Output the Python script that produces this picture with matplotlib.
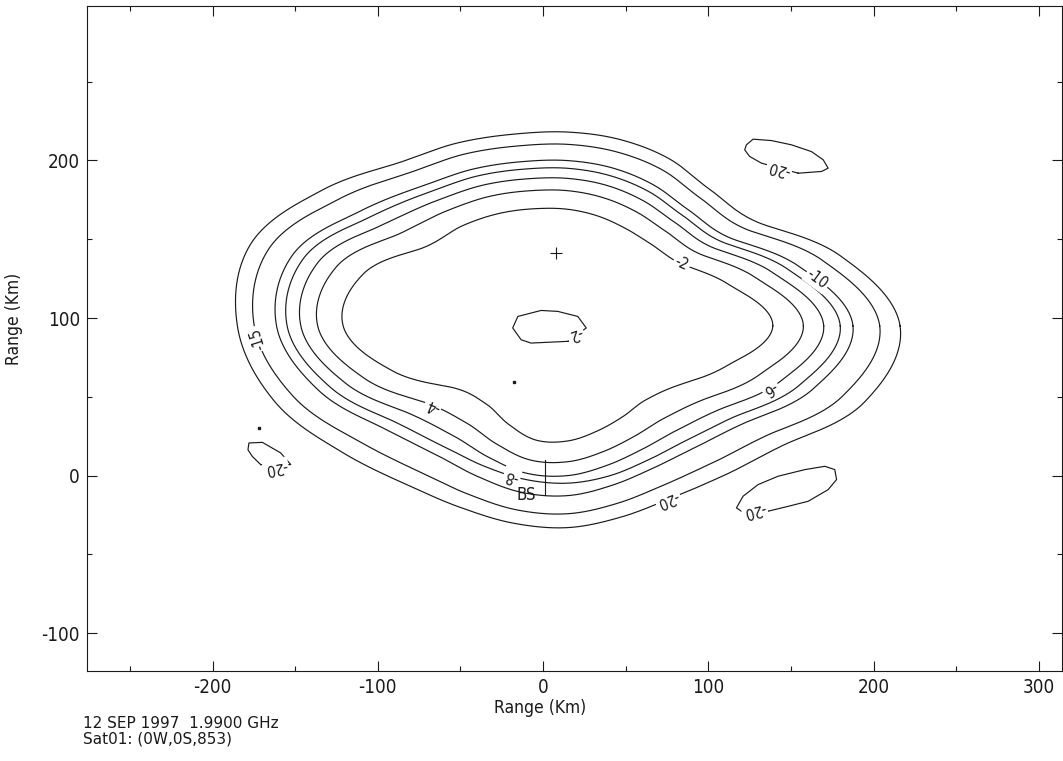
import numpy as np
import matplotlib
matplotlib.use("Agg")
import matplotlib.pyplot as plt
from matplotlib.ticker import MultipleLocator, FuncFormatter

plt.rcParams['font.family'] = ['DejaVu Sans']
plt.rcParams['font.stretch'] = 'condensed'

# ---------------- data ----------------
# main beam contours: radius (km) from the beam centre at each azimuth (deg)
beam_center = (15.0, 95.0)
azimuths = [0, 15, 30, 45, 60, 75, 90, 105, 120, 135, 150, 165,
            180, 195, 210, 225, 240, 255, 270, 285, 300, 315, 330, 345]
levels = [-2, -4, -6, -8, -10, -15, -20]
r_m2 = [124, 101, 79, 72.5, 71, 72, 74, 77, 82.5, 90, 100, 128,
        136, 110, 79, 70, 72, 75, 73, 69, 66.5, 66.5, 76, 99]
r_m4 = [142.5, 117.8, 91.7, 84.4, 83.4, 84.1, 85.8, 88.8, 94.9, 103.4, 117.3, 145,
        151.4, 127.8, 98.2, 87, 86.5, 88.1, 86.2, 82.6, 80.8, 82.7, 94, 119.9]
r_m6 = [154.8, 129, 100.2, 92.3, 91.6, 92.2, 93.6, 96.6, 103.1, 112.4, 128.8, 156.4,
        161.6, 139.6, 111, 98.4, 96.2, 96.8, 95, 91.6, 90.3, 93.5, 106, 133.8]
r_m8 = [164.8, 138.1, 107.1, 98.7, 98.3, 98.7, 100, 103, 109.8, 119.7, 138.2, 165.6,
        169.9, 149.2, 121.4, 107.6, 102.5, 100.8, 99.8, 98.4, 98, 102.3, 115.8, 145.1]
r_m10 = [172.5, 145.1, 112.4, 103.7, 103.4, 103.8, 104.9, 107.9, 114.9, 125.3, 145.4, 172.7,
         176.3, 156.6, 129.4, 114.7, 110.1, 109.3, 107.7, 104.6, 104, 109, 123.3, 153.8]
r_m15 = [188.7, 159.8, 123.5, 114.1, 114.3, 114.3, 115.2, 118.2, 125.8, 137, 160.5, 187.6,
         189.8, 172.2, 146.2, 129.6, 122.8, 120.8, 119.2, 116.5, 116.5, 123.2, 139, 172.1]
r_m20 = [201, 171, 132, 122, 122.5, 122.4, 123, 126, 134, 146, 172, 199,
         200, 184, 159, 141, 132.5, 129.5, 128, 125.5, 126, 134, 151, 186]

# contour labels: level, azimuth on that contour, drawn upside down?
label_levels = [-2, -10, -6, -4, -15, -8, -20]
label_azimuths = [29.8, 11.1, 342.1, 211.8, 182.5, 250.5, 298.8]
label_flipped = [False, False, True, True, True, True, True]

# central -2 dip
dip_x = [15, -7.3, -13.3, -18.4, -15.3, -1.2, 8.9, 21, 26.1]
dip_y = [85.2, 84.1, 86.2, 93.7, 101, 104.8, 104.2, 101, 93.7]
dip_label = ("-2", 19.5, 90.0, 200)

# -20 dB side lobes
lobe1_x = [-170.9, -176, -178.6, -178, -169.9, -158.8, -152.7]
lobe1_y = [7.0, 12.2, 16.4, 20.7, 21.1, 14.4, 7.0]
lobe1_label = ("-20", -161.8, 5.0, 190)

lobe2_x = [136.2, 148.3, 160.4, 172.5, 177.6, 176.5, 170.5, 158.4, 142.2, 130.1, 121, 117, 120]
lobe2_y = [-22.6, -19.5, -16.3, -8.9, -2.5, 3.8, 5.9, 3.8, -0.4, -5.7, -13.1, -20.5, -22.6]
lobe2_label = ("-20", 128.0, -22.0, 194)

lobe3_x = [154.4, 168.5, 172.5, 169.5, 162.4, 150.3, 138.2, 127.1, 123, 122, 125, 132.1]
lobe3_y = [191.9, 193.0, 195.1, 200.4, 205.6, 209.9, 212.6, 213.5, 209.9, 206.7, 202.5, 198.3]
lobe3_label = ("-20", 143.0, 195.0, 164)

boresight = (8.0, 141.0)
bs_text = ("BS", -10.5, -12.5)
bs_line_x = [1.0, 1.0]
bs_line_y = [10.0, -12.0]
stray_x = [-172.0, -17.6]
stray_y = [30.4, 59.6]

header_lines = ["12 SEP 1997  1.9900 GHz", "Sat01: (0W,0S,853)"]
x_range = (-276, 314)
y_range = (-124, 298)

# ---------------- drawing ----------------
radius_tables = [r_m2, r_m4, r_m6, r_m8, r_m10, r_m15, r_m20]
az_arr = np.array(azimuths, dtype=float)
step = az_arr[1] - az_arr[0]


def radius_at(table, az):
    """periodic Catmull-Rom through the read radii"""
    t = np.asarray(table, dtype=float)
    n = len(t)
    a = np.mod(np.asarray(az, dtype=float), 360.0) / step
    i = np.floor(a).astype(int)
    u = a - i
    p0 = t[(i - 1) % n]
    p1 = t[i % n]
    p2 = t[(i + 1) % n]
    p3 = t[(i + 2) % n]
    return 0.5 * ((2 * p1) + (-p0 + p2) * u + (2 * p0 - 5 * p1 + 4 * p2 - p3) * u ** 2
                  + (-p0 + 3 * p1 - 3 * p2 + p3) * u ** 3)


def contour_xy(table, az):
    r = radius_at(table, az)
    th = np.radians(az)
    return beam_center[0] + r * np.cos(th), beam_center[1] + r * np.sin(th)


fig = plt.figure(figsize=(10.63, 7.61), dpi=100)
ax = fig.add_axes([87 / 1063, 1 - 671 / 761, (1062 - 87) / 1063, (671 - 6) / 761])
ax.set_xlim(*x_range)
ax.set_ylim(*y_range)

ink = "#1a1a1a"
lw = 0.85
fine = np.linspace(0, 360, 1441)
for tab in radius_tables:
    x, y = contour_xy(tab, fine)
    ax.plot(x, y, color=ink, lw=lw)

for lx, ly in [(dip_x, dip_y), (lobe1_x, lobe1_y), (lobe2_x, lobe2_y), (lobe3_x, lobe3_y)]:
    ax.plot(list(lx) + [lx[0]], list(ly) + [ly[0]], color=ink, lw=lw)

fig.canvas.draw()
lab_font = dict(fontsize=11, color=ink)
box = dict(boxstyle="square,pad=0.12", fc="white", ec="none")
for lev, az, flip in zip(label_levels, label_azimuths, label_flipped):
    tab = radius_tables[levels.index(lev)]
    px, py = contour_xy(tab, az)
    xa, ya = contour_xy(tab, az - 0.8)
    xb, yb = contour_xy(tab, az + 0.8)
    (dxa, dya), (dxb, dyb) = ax.transData.transform([(xa, ya), (xb, yb)])
    ang = np.degrees(np.arctan2(dyb - dya, dxb - dxa))
    while ang > 90:
        ang -= 180
    while ang <= -90:
        ang += 180
    if flip:
        ang += 180
    ax.text(px, py, f"{lev}", rotation=ang, rotation_mode="anchor",
            ha="center", va="center", bbox=box, **lab_font, zorder=5)

for txt, tx, ty, rot in [dip_label, lobe1_label, lobe2_label, lobe3_label]:
    ax.text(tx, ty, txt, rotation=rot, rotation_mode="anchor",
            ha="center", va="center", bbox=box, **lab_font, zorder=5)

ax.plot(*boresight, marker="+", color=ink, ms=8, mew=0.8)
ax.plot(bs_line_x, bs_line_y, color=ink, lw=0.8)
ax.text(bs_text[1], bs_text[2], bs_text[0], ha="center", va="center",
        fontsize=12, color=ink, zorder=6)
ax.plot(stray_x, stray_y, ls="none", marker="s", ms=1.5, color=ink)

# axes styling
for s in ax.spines.values():
    s.set_linewidth(0.8)
    s.set_color(ink)
ax.xaxis.set_major_locator(MultipleLocator(100))
ax.xaxis.set_minor_locator(MultipleLocator(50))
ax.yaxis.set_major_locator(MultipleLocator(100))
ax.yaxis.set_minor_locator(MultipleLocator(50))
ax.tick_params(which="both", direction="in", top=True, right=True, color=ink, width=0.8,
               labelsize=13.5, labelcolor=ink)
ax.tick_params(which="major", length=7, pad=5)
ax.tick_params(which="minor", length=3.5)
fmt = FuncFormatter(lambda v, p: f"{int(round(v))}")
ax.xaxis.set_major_formatter(fmt)
ax.yaxis.set_major_formatter(fmt)

ax.set_xlabel("Range (Km)", fontsize=12.5, color=ink)
ax.set_ylabel("Range (Km)", fontsize=12.5, color=ink)
ax.xaxis.set_label_coords(0.465, -0.042)
ax.yaxis.set_label_coords(-0.0656, 0.53)

fig.text(83 / 1063, 1 - 724 / 761, header_lines[0], fontsize=11, color=ink, va="center",
         fontstretch="normal")
fig.text(83 / 1063, 1 - 739 / 761, header_lines[1], fontsize=11, color=ink, va="center",
         fontstretch="normal")

fig.savefig("out.png", dpi=100)
